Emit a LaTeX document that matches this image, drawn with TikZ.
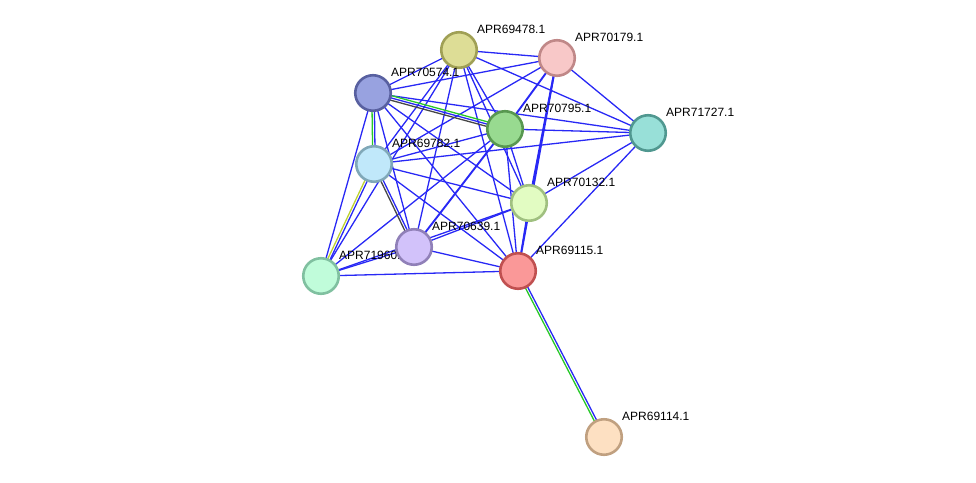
\documentclass[tikz,border=0pt]{standalone}
\usepackage{fontspec}
\setmainfont{Liberation Sans}
\usetikzlibrary{calc}
\pgfdeclarelayer{background}
\pgfsetlayers{background,main}
\definecolor{eblue}{RGB}{40,40,245}
\definecolor{egreen}{RGB}{40,200,40}
\definecolor{eblack}{RGB}{70,70,70}
\definecolor{eolive}{RGB}{190,210,50}
\tikzset{
  e/.style={draw=eblue, line width=1.3pt},
  et/.style={draw=eblue, line width=1.9pt},
  prot/.style={circle, minimum size=35.5pt, inner sep=0pt, line width=2.6pt},
  lab/.style={anchor=base west, font=\fontsize{12}{14}\selectfont, inner sep=0pt, text=black},
}
\begin{document}
\begin{tikzpicture}[x=1pt,y=-1pt]
\useasboundingbox (0,0) rectangle (976,482);
% nodes (drawing order matters)
\node[prot, fill={rgb,255:red,221;green,221;blue,150}, draw={rgb,255:red,160;green,160;blue,85}] (A) at (459,50) {};
\node[lab] (lA) at (477,33) {APR69478.1};
\node[prot, fill={rgb,255:red,248;green,200;blue,200}, draw={rgb,255:red,192;green,136;blue,136}] (B) at (557,58) {};
\node[lab] (lB) at (575,41) {APR70179.1};
\node[prot, fill={rgb,255:red,152;green,162;blue,224}, draw={rgb,255:red,88;green,96;blue,160}] (C) at (373,93) {};
\node[lab] (lC) at (391,76) {APR70574.1};
\node[prot, fill={rgb,255:red,152;green,218;blue,144}, draw={rgb,255:red,88;green,152;blue,80}] (D) at (505,129) {};
\node[lab] (lD) at (523,112) {APR70795.1};
\node[prot, fill={rgb,255:red,152;green,224;blue,216}, draw={rgb,255:red,80;green,152;blue,144}] (E) at (648,133) {};
\node[lab] (lE) at (666,116) {APR71727.1};
\node[prot, fill={rgb,255:red,192;green,232;blue,250}, draw={rgb,255:red,128;green,168;blue,184}] (F) at (374,164) {};
\node[lab] (lF) at (392,147) {APR69782.1};
\node[prot, fill={rgb,255:red,226;green,252;blue,194}, draw={rgb,255:red,160;green,192;blue,128}] (G) at (529,203) {};
\node[lab] (lG) at (547,186) {APR70132.1};
\node[prot, fill={rgb,255:red,192;green,252;blue,218}, draw={rgb,255:red,128;green,192;blue,160}] (I) at (321,276) {};
\node[lab] (lI) at (339,259) {APR71960.1};
\node[prot, fill={rgb,255:red,210;green,194;blue,250}, draw={rgb,255:red,144;green,128;blue,184}] (H) at (414,247) {};
\node[lab] (lH) at (432,230) {APR70639.1};
\node[prot, fill={rgb,255:red,250;green,152;blue,152}, draw={rgb,255:red,192;green,80;blue,80}] (J) at (518,271) {};
\node[lab] (lJ) at (536,254) {APR69115.1};
\node[prot, fill={rgb,255:red,253;green,224;blue,194}, draw={rgb,255:red,192;green,160;blue,128}] (K) at (604,437) {};
\node[lab] (lK) at (622,420) {APR69114.1};
% edges
\begin{pgfonlayer}{background}
\foreach \a/\b in {A/B,A/C,A/D,A/E,A/F,A/G,A/H,A/I,A/J,
  B/C,B/E,B/F,
  C/E,C/G,C/H,C/I,C/J,
  D/E,D/F,D/G,D/I,D/J,
  E/F,E/G,E/J,
  F/G,F/J,
  G/H,G/I,G/J,
  H/I,H/J,I/J}
  \draw[e] (\a.center) -- (\b.center);
\foreach \a/\b in {B/D,D/H,B/G,B/J}
  \draw[et] (\a.center) -- (\b.center);
% C-D: green, blue, black
\draw[e, draw=egreen] ($(C)!2.3pt!90:(D)$) -- ($(D)!2.3pt!270:(C)$);
\draw[e] (C.center) -- (D.center);
\draw[e, draw=eblack] ($(C)!2.3pt!270:(D)$) -- ($(D)!2.3pt!90:(C)$);
% C-F: green, blue
\draw[e, draw=egreen] ($(C)!1.2pt!270:(F)$) -- ($(F)!1.2pt!90:(C)$);
\draw[e] ($(C)!1.2pt!90:(F)$) -- ($(F)!1.2pt!270:(C)$);
% F-I: olive, blue
\draw[e, draw=eolive] ($(F)!1.2pt!270:(I)$) -- ($(I)!1.2pt!90:(F)$);
\draw[e] ($(F)!1.2pt!90:(I)$) -- ($(I)!1.2pt!270:(F)$);
% F-H: black, blue
\draw[e, draw=eblack] ($(F)!1.2pt!270:(H)$) -- ($(H)!1.2pt!90:(F)$);
\draw[e] ($(F)!1.2pt!90:(H)$) -- ($(H)!1.2pt!270:(F)$);
% J-K: green, blue
\draw[e, draw=egreen] ($(J)!1.2pt!270:(K)$) -- ($(K)!1.2pt!90:(J)$);
\draw[e] ($(J)!1.2pt!90:(K)$) -- ($(K)!1.2pt!270:(J)$);
\end{pgfonlayer}
\end{tikzpicture}
\end{document}
